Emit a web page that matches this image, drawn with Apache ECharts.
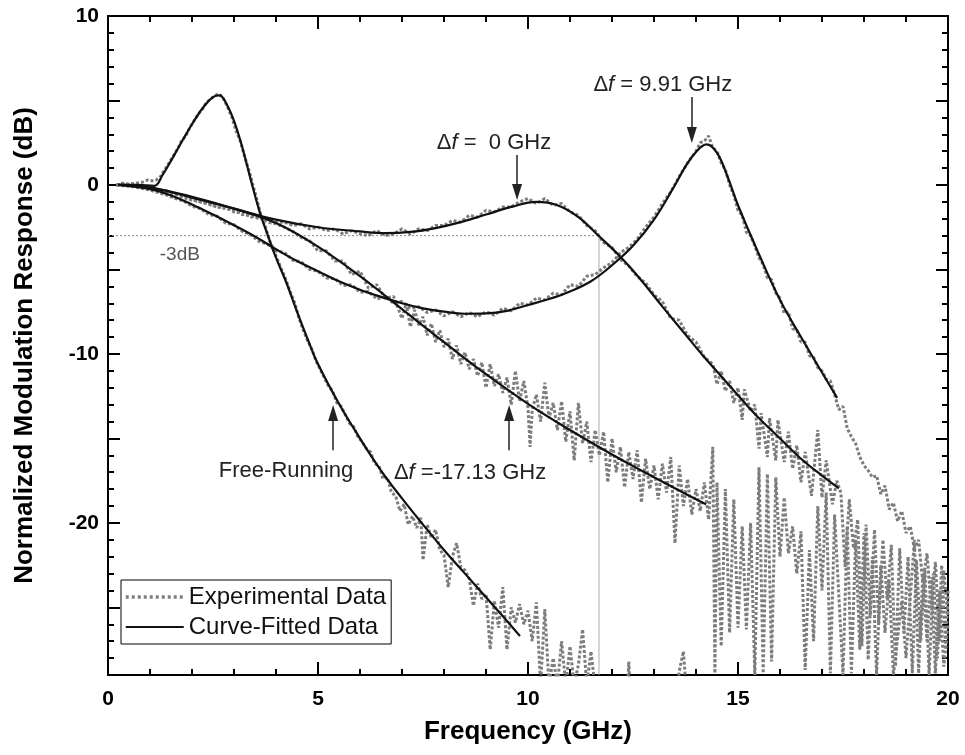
<!DOCTYPE html>
<html>
<head>
<meta charset="utf-8">
<script src="https://cdn.jsdelivr.net/npm/echarts@6/dist/echarts.min.js"></script>
<style>
html,body{margin:0;padding:0;background:#fff;}
#chart{width:965px;height:755px;}
</style>
</head>
<body>
<div id="chart"></div>
<script>
// ---- Curve-fitted data [GHz, dB] ----
const fitFree = [[0.25,0],[0.7,0.0],[1.1,-0.05],[1.3,0.6],[1.55,1.65],[1.8,2.75],[2.05,3.8],[2.3,4.7],[2.5,5.2],[2.65,5.3],[2.8,4.9],[3.0,3.8],[3.2,2.2],[3.4,0.3],[3.6,-1.5],[3.8,-2.95],[4.0,-4.3],[4.25,-5.8],[4.5,-7.5],[4.75,-9.1],[5.0,-10.6],[5.5,-12.95],[6.0,-15.0],[6.5,-16.9],[7.0,-18.55],[7.5,-20.1],[8.0,-21.6],[8.5,-23.0],[9.0,-24.4],[9.5,-25.8],[9.81,-26.7]];
const fitZero = [[0.25,0],[1,-0.15],[2,-0.75],[3,-1.4],[4,-2.05],[5,-2.5],[6,-2.75],[6.6,-2.85],[7.2,-2.78],[7.8,-2.55],[8.4,-2.2],[9.0,-1.75],[9.6,-1.3],[10.2,-1.0],[10.7,-1.2],[11.2,-1.9],[11.7,-3.05],[12.2,-4.25],[12.7,-5.65],[13.2,-7.2],[13.7,-8.7],[14.2,-10.2],[14.7,-11.6],[15.2,-13.0],[15.5,-13.8],[16.0,-15.0],[16.5,-16.2],[17.0,-17.2],[17.4,-17.95]];
const fitPos = [[0.25,0],[1,-0.25],[1.5,-0.62],[2,-1.15],[2.5,-1.75],[3,-2.38],[3.5,-3.05],[4,-3.8],[4.5,-4.5],[5,-5.1],[5.5,-5.7],[6,-6.2],[6.5,-6.62],[7,-7.0],[7.5,-7.3],[8,-7.5],[8.5,-7.62],[9,-7.6],[9.5,-7.45],[10,-7.1],[10.5,-6.75],[11,-6.3],[11.5,-5.7],[12,-4.75],[12.5,-3.6],[13,-2.05],[13.5,0.0],[13.75,1.1],[14,1.95],[14.25,2.4],[14.5,1.9],[14.75,0.5],[15,-1.2],[15.5,-4.1],[16,-6.8],[16.5,-9.0],[17,-11.1],[17.36,-12.6]];
const fitNeg = [[0.25,0],[1,-0.15],[2,-0.7],[3,-1.4],[4,-2.25],[5,-3.65],[6,-5.4],[7,-7.35],[8,-9.3],[9,-11.2],[10,-12.95],[11,-14.5],[12,-15.95],[13,-17.3],[14,-18.6],[14.24,-18.9]];

// ---- Experimental data [GHz, dB] ----
const expFree = [[0.2,0.0],[0.35,0.1],[0.5,0.05],[0.65,0.1],[0.8,0.15],[0.95,0.3],[1.05,0.25],[1.15,0.3],[1.25,0.5],[1.35,0.9],[1.45,1.3],[1.55,1.7],[1.65,2.1],[1.75,2.6],[1.85,2.9],[1.95,3.4],[2.05,3.8],[2.15,4.2],[2.25,4.5],[2.35,4.9],[2.45,5.1],[2.55,5.3],[2.65,5.4],[2.75,5.1],[2.85,4.6],[2.95,4.0],[3.05,3.2],[3.15,2.6],[3.25,1.7],[3.35,0.9],[3.45,0.0],[3.55,-0.9],[3.65,-1.9],[3.75,-2.5],[3.85,-3.3],[3.95,-3.9],[4.05,-4.5],[4.15,-5.1],[4.25,-5.7],[4.35,-6.4],[4.45,-7.0],[4.55,-7.9],[4.65,-8.6],[4.75,-9.2],[4.85,-9.7],[4.95,-10.4],[5.05,-10.9],[5.15,-11.4],[5.25,-11.9],[5.35,-12.2],[5.45,-12.9],[5.55,-13.1],[5.65,-13.6],[5.75,-14.1],[5.85,-14.3],[5.95,-14.9],[6.05,-15.2],[6.15,-15.6],[6.25,-15.8],[6.35,-16.5],[6.45,-16.6],[6.55,-17.4],[6.65,-17.3],[6.75,-18.2],[6.85,-18.4],[6.95,-19.3],[7.05,-18.9],[7.15,-20.1],[7.25,-19.6],[7.35,-20.3],[7.45,-19.7],[7.5,-22.2],[7.6,-20.1],[7.7,-20.9],[7.8,-20.4],[7.9,-21.6],[8.0,-21.9],[8.1,-23.8],[8.2,-22.0],[8.3,-21.2],[8.4,-22.6],[8.5,-22.8],[8.6,-23.3],[8.7,-24.9],[8.8,-23.6],[8.9,-24.5],[9.0,-24.2],[9.1,-27.5],[9.2,-24.6],[9.3,-26.2],[9.4,-23.8],[9.5,-27.5],[9.6,-25.0],[9.7,-25.9],[9.8,-24.8],[9.9,-26.0],[10.0,-25.2],[10.1,-27.0],[10.2,-24.7],[10.3,-29.6],[10.4,-25.1],[10.5,-29.6],[10.6,-28.0],[10.7,-29.6],[10.8,-27.0],[10.9,-29.6],[11.0,-27.3],[11.1,-29.6],[11.2,-28.4],[11.3,-26.3],[11.4,-29.6],[11.5,-27.6],[11.6,-29.8],[12.0,-31],[12.35,-31],[12.4,-28.2],[12.45,-31],[13.5,-31],[13.6,-28.8],[13.7,-27.6],[13.8,-31],[14.0,-31]];
const expZero = [[0.2,0.0],[0.4,0.05],[0.6,0.0],[0.8,-0.1],[1.0,-0.1],[1.2,-0.3],[1.4,-0.35],[1.6,-0.55],[1.8,-0.6],[2.0,-0.85],[2.2,-1.0],[2.4,-1.1],[2.6,-1.3],[2.8,-1.4],[3.0,-1.5],[3.2,-1.75],[3.4,-1.8],[3.6,-2.0],[3.8,-2.0],[4.0,-2.2],[4.2,-2.2],[4.4,-2.4],[4.6,-2.3],[4.8,-2.6],[5.0,-2.5],[5.2,-2.7],[5.4,-2.6],[5.6,-2.9],[5.8,-2.7],[6.0,-2.9],[6.2,-3.0],[6.4,-2.7],[6.6,-3.0],[6.8,-2.9],[7.0,-2.6],[7.2,-2.9],[7.4,-2.6],[7.6,-2.7],[7.8,-2.4],[8.0,-2.4],[8.2,-2.1],[8.4,-2.2],[8.6,-1.8],[8.8,-1.9],[9.0,-1.5],[9.2,-1.6],[9.4,-1.3],[9.6,-1.3],[9.8,-1.0],[10.0,-0.8],[10.2,-1.1],[10.4,-0.8],[10.6,-1.2],[10.8,-1.1],[11.0,-1.6],[11.2,-1.8],[11.4,-2.4],[11.6,-2.7],[11.8,-3.4],[12.0,-3.7],[12.2,-4.4],[12.4,-4.8],[12.6,-5.4],[12.8,-5.8],[13.0,-6.5],[13.2,-6.9],[13.4,-7.9],[13.6,-8.0],[13.8,-8.9],[14.0,-9.3],[14.2,-10.2],[14.4,-10.6],[14.5,-11.8],[14.6,-11.0],[14.7,-12.2],[14.8,-11.6],[14.9,-12.9],[15.0,-12.0],[15.1,-13.9],[15.15,-12.1],[15.3,-13.4],[15.4,-13.0],[15.5,-15.6],[15.55,-13.5],[15.7,-16.1],[15.75,-13.8],[15.9,-16.3],[15.95,-13.9],[16.1,-16.4],[16.2,-14.6],[16.3,-16.8],[16.4,-15.4],[16.5,-17.6],[16.6,-15.8],[16.75,-18.4],[16.9,-14.5],[17.0,-18.5],[17.1,-16.3],[17.25,-18.9],[17.35,-17.5],[17.45,-18.2],[17.55,-22.6],[17.65,-18.6],[17.75,-21.5],[17.85,-19.8],[17.95,-27.3],[18.05,-20.1],[18.15,-25.5],[18.25,-20.4],[18.35,-26.0],[18.45,-21.0],[18.55,-24.5],[18.65,-21.3],[18.75,-28.5],[18.85,-21.5],[18.95,-26.5],[19.05,-22.0],[19.15,-28.9],[19.25,-22.2],[19.35,-27.0],[19.45,-22.8],[19.55,-29.0],[19.65,-23.0],[19.75,-28.0],[19.85,-22.5],[19.95,-27.5],[20.0,-24.0]];
const expPos = [[0.2,0.0],[0.4,-0.05],[0.6,-0.1],[0.8,-0.2],[1.0,-0.3],[1.2,-0.45],[1.4,-0.6],[1.6,-0.8],[1.8,-0.95],[2.0,-1.25],[2.2,-1.4],[2.4,-1.75],[2.6,-1.85],[2.8,-2.25],[3.0,-2.35],[3.2,-2.75],[3.4,-2.95],[3.6,-3.35],[3.8,-3.5],[4.0,-3.9],[4.2,-4.0],[4.4,-4.45],[4.6,-4.55],[4.8,-5.0],[5.0,-5.1],[5.2,-5.5],[5.4,-5.55],[5.6,-5.95],[5.8,-5.9],[6.0,-6.35],[6.2,-6.3],[6.4,-6.75],[6.6,-6.6],[6.8,-7.0],[7.0,-6.9],[7.2,-7.3],[7.4,-7.2],[7.6,-7.55],[7.8,-7.4],[8.0,-7.75],[8.2,-7.5],[8.4,-7.8],[8.6,-7.55],[8.8,-7.8],[9.0,-7.5],[9.2,-7.7],[9.4,-7.3],[9.6,-7.45],[9.8,-7.0],[10.0,-7.1],[10.2,-6.7],[10.4,-6.8],[10.6,-6.4],[10.8,-6.5],[11.0,-5.9],[11.2,-6.0],[11.4,-5.4],[11.6,-5.3],[11.8,-4.9],[12.0,-4.6],[12.2,-4.0],[12.4,-3.7],[12.6,-3.2],[12.8,-2.5],[13.0,-1.9],[13.2,-1.1],[13.4,-0.4],[13.6,0.5],[13.8,1.3],[14.0,2.0],[14.1,2.5],[14.2,2.6],[14.3,2.9],[14.4,2.2],[14.5,2.0],[14.6,1.3],[14.7,0.9],[14.8,0.0],[14.9,-0.6],[15.0,-1.5],[15.1,-1.8],[15.2,-2.8],[15.3,-3.0],[15.4,-3.6],[15.5,-4.3],[15.6,-4.7],[15.7,-5.5],[15.8,-5.6],[15.9,-6.4],[16.0,-6.7],[16.1,-7.6],[16.2,-7.5],[16.3,-8.5],[16.4,-8.6],[16.5,-9.3],[16.6,-9.3],[16.7,-10.1],[16.8,-10.2],[16.9,-10.8],[17.0,-11.0],[17.1,-11.5],[17.2,-11.6],[17.3,-12.4],[17.4,-13.3],[17.5,-13.1],[17.6,-14.4],[17.7,-14.9],[17.8,-15.3],[17.9,-16.1],[18.0,-16.6],[18.1,-16.9],[18.2,-17.3],[18.3,-17.2],[18.4,-18.3],[18.5,-17.8],[18.6,-19.2],[18.7,-18.8],[18.8,-19.9],[18.9,-19.3],[19.0,-20.6],[19.1,-20.2],[19.2,-21.5],[19.3,-21.0],[19.4,-23.5],[19.5,-21.8],[19.6,-25.0],[19.7,-22.3],[19.8,-27.0],[19.9,-22.8],[20.0,-25.5]];
const expNeg = [[0.2,0.0],[0.4,0.0],[0.6,-0.05],[0.8,-0.1],[1.0,-0.2],[1.2,-0.3],[1.4,-0.5],[1.6,-0.55],[1.8,-0.75],[2.0,-0.9],[2.2,-1.0],[2.4,-1.15],[2.6,-1.3],[2.8,-1.3],[3.0,-1.6],[3.2,-1.6],[3.4,-1.9],[3.6,-1.85],[3.8,-2.2],[4.0,-2.3],[4.2,-2.5],[4.4,-2.75],[4.6,-3.1],[4.8,-3.3],[5.0,-3.9],[5.2,-3.9],[5.4,-4.5],[5.6,-4.5],[5.8,-5.3],[6.0,-5.1],[6.2,-6.1],[6.4,-5.9],[6.6,-6.7],[6.8,-6.6],[7.0,-7.9],[7.1,-7.0],[7.2,-8.4],[7.3,-7.4],[7.4,-8.3],[7.5,-7.8],[7.6,-8.9],[7.7,-8.2],[7.8,-9.3],[7.9,-8.6],[8.0,-9.6],[8.1,-9.1],[8.2,-10.3],[8.3,-9.5],[8.4,-10.6],[8.5,-9.9],[8.6,-10.9],[8.7,-10.3],[8.8,-11.3],[8.9,-10.5],[9.0,-12.0],[9.1,-10.6],[9.2,-11.9],[9.3,-11.2],[9.4,-12.3],[9.5,-11.4],[9.6,-13.0],[9.7,-11.0],[9.8,-12.8],[9.9,-11.6],[10.0,-13.2],[10.05,-15.5],[10.1,-13.3],[10.2,-12.4],[10.3,-14.0],[10.4,-11.7],[10.5,-13.8],[10.6,-12.9],[10.7,-14.5],[10.8,-12.8],[10.9,-15.2],[11.0,-13.4],[11.1,-16.3],[11.2,-12.9],[11.3,-15.3],[11.4,-14.0],[11.5,-16.4],[11.6,-14.5],[11.7,-16.0],[11.8,-14.6],[11.9,-17.6],[12.0,-15.0],[12.1,-17.0],[12.2,-15.5],[12.3,-17.9],[12.4,-15.8],[12.5,-17.4],[12.6,-15.7],[12.7,-18.8],[12.8,-16.2],[12.9,-18.0],[13.0,-16.6],[13.1,-18.6],[13.2,-16.5],[13.3,-18.2],[13.4,-16.1],[13.5,-21.2],[13.6,-16.6],[13.7,-19.0],[13.8,-17.4],[13.9,-19.5],[14.0,-18.0],[14.1,-19.3],[14.2,-17.6],[14.3,-19.8],[14.4,-15.5],[14.45,-28.9],[14.5,-17.6],[14.6,-27.3],[14.7,-18.0],[14.8,-26.5],[14.9,-18.6],[15.0,-26.2],[15.1,-20.2],[15.2,-26.3],[15.3,-20.0],[15.4,-29.0],[15.5,-16.7],[15.6,-28.9],[15.7,-17.1],[15.8,-28.2],[15.9,-17.3],[16.0,-22.0],[16.1,-18.5],[16.2,-21.8],[16.3,-20.2],[16.4,-23.0],[16.5,-20.5],[16.6,-28.7],[16.7,-21.6],[16.8,-27.0],[16.9,-19.0],[17.0,-24.0],[17.1,-18.2],[17.2,-28.9],[17.3,-19.5],[17.5,-29.0],[17.6,-20.2],[17.7,-28.9],[17.8,-21.0],[17.9,-27.5],[18.0,-20.6],[18.1,-28.1],[18.2,-22.0],[18.3,-29.0],[18.4,-22.5],[18.5,-26.5],[18.6,-23.4],[18.7,-29.0],[18.9,-24.6],[19.0,-28.0],[19.2,-21.0],[19.3,-28.9],[19.4,-23.0],[19.5,-27.0],[19.6,-23.2],[19.7,-28.9],[19.8,-24.0],[19.9,-28.5],[20.0,-26.0]];

// ---- reference lines / ticks ----
const minus3dBLine = [[0,-3],[11.69,-3]];
const cutoffLine = [[11.69,-3],[11.69,-29]];
const yLabelValues = [-20,-10,0,10];
const yMajorTicks = [-25,-20,-15,-10,-5,0,5,10];

const FONT = '"Liberation Sans", Arial, Helvetica, sans-serif';
const chart = echarts.init(document.getElementById('chart'), null, {renderer:'canvas'});

const expStyle = {color:'#7d7d7d', width:3, type:[3,2], cap:'butt'};
const fitStyle = {color:'#111', width:2.2};

function expSeries(data){
  return {name:'Experimental Data', type:'line', data:data, symbol:'none', lineStyle:expStyle, itemStyle:{color:'#7d7d7d'}, z:2, silent:true};
}
function fitSeries(data){
  return {name:'Curve-Fitted Data', type:'line', data:data, symbol:'none', smooth:0.4, lineStyle:fitStyle, itemStyle:{color:'#111'}, z:3, silent:true};
}

const richStyles = {
  a:{fontFamily:FONT, fontSize:22, color:'#222'},
  b:{fontFamily:FONT, fontSize:22, color:'#222', fontStyle:'italic'},
  c:{fontFamily:FONT, fontSize:19, color:'#555'}
};

const axisLineStyle = {show:true, onZero:false, lineStyle:{color:'#000', width:2}};

const option = {
  animation:false,
  backgroundColor:'#fff',
  grid:{left:108, right:17, top:16, bottom:80, containLabel:false},
  legend:{
    data:[
      {name:'Experimental Data', lineStyle:{color:'#7d7d7d', width:3.5, type:[3,3], cap:'butt'}},
      {name:'Curve-Fitted Data', lineStyle:{color:'#111', width:2.2, type:'solid'}}
    ],
    orient:'vertical', left:121, top:580,
    borderColor:'#000', borderWidth:1, backgroundColor:'#fff',
    padding:[5,5,5,3], itemGap:6, itemWidth:58, itemHeight:18,
    itemStyle:{opacity:0},
    textStyle:{fontFamily:FONT, fontSize:24, color:'#111'},
    selectedMode:false
  },
  xAxis:[
    {type:'value', position:'bottom', min:0, max:20, interval:5,
     axisLine:axisLineStyle,
     axisTick:{show:true, inside:true, length:13, lineStyle:{color:'#000', width:2}},
     minorTick:{show:true, splitNumber:5, length:6, lineStyle:{color:'#000', width:2}},
     splitLine:{show:false}, minorSplitLine:{show:false},
     axisLabel:{fontFamily:FONT, fontSize:21, fontWeight:'bold', color:'#000', margin:14},
     name:'Frequency (GHz)', nameLocation:'middle', nameGap:44,
     nameTextStyle:{fontFamily:FONT, fontSize:26, fontWeight:'bold', color:'#000'}
    },
    {type:'value', position:'top', min:0, max:20, interval:5,
     axisLine:axisLineStyle,
     axisTick:{show:true, inside:true, length:13, lineStyle:{color:'#000', width:2}},
     minorTick:{show:true, splitNumber:5, length:6, lineStyle:{color:'#000', width:2}},
     splitLine:{show:false}, axisLabel:{show:false}
    }
  ],
  yAxis:[
    {type:'value', position:'left', min:-29, max:10, interval:1,
     axisLine:axisLineStyle,
     axisTick:{show:true, inside:true, length:6, lineStyle:{color:'#000', width:2}},
     splitLine:{show:false},
     axisLabel:{fontFamily:FONT, fontSize:21, fontWeight:'bold', color:'#000', margin:9,
       formatter:function(v){ return yLabelValues.indexOf(v) >= 0 ? String(v) : ''; }},
     name:'Normalized Modulation Response (dB)', nameLocation:'middle', nameGap:70,
     nameTextStyle:{fontFamily:FONT, fontSize:26, fontWeight:'bold', color:'#000'}
    },
    {type:'value', position:'left', min:-29, max:10,
     axisLine:{show:false, onZero:false},
     axisTick:{show:true, inside:true, length:12, customValues:yMajorTicks, lineStyle:{color:'#000', width:2}},
     splitLine:{show:false}, axisLabel:{show:false, customValues:yMajorTicks}
    },
    {type:'value', position:'right', min:-29, max:10, interval:1,
     axisLine:axisLineStyle,
     axisTick:{show:true, inside:true, length:6, lineStyle:{color:'#000', width:2}},
     splitLine:{show:false}, axisLabel:{show:false}
    },
    {type:'value', position:'right', min:-29, max:10,
     axisLine:{show:false, onZero:false},
     axisTick:{show:true, inside:true, length:12, customValues:yMajorTicks, lineStyle:{color:'#000', width:2}},
     splitLine:{show:false}, axisLabel:{show:false, customValues:yMajorTicks}
    }
  ],
  series:[
    expSeries(expFree), expSeries(expZero), expSeries(expPos), expSeries(expNeg),
    fitSeries(fitFree), fitSeries(fitZero), fitSeries(fitPos), fitSeries(fitNeg),
    {name:'ref3dB', type:'line', data:minus3dBLine, symbol:'none', silent:true, z:1,
     lineStyle:{color:'#888', width:1, type:[2,2]},
     markPoint:{
       silent:true, symbol:'rect', symbolSize:1, itemStyle:{color:'rgba(0,0,0,0)'},
       label:{show:true, position:'inside', rich:richStyles},
       data:[
         {coord:[13.21,5.92], label:{formatter:'{a|Δ}{b|f}{a| = 9.91 GHz}'}},
         {coord:[9.19,2.49], label:{formatter:'{a|Δ}{b|f}{a| =  0 GHz}'}},
         {coord:[4.24,-16.95], label:{formatter:'{a|Free-Running}'}},
         {coord:[8.62,-17.05], label:{formatter:'{a|Δ}{b|f}{a| =-17.13 GHz}'}},
         {coord:[1.71,-4.14], label:{formatter:'{c|-3dB}'}}
       ]
     },
     markLine:{
       silent:true, symbol:['none','triangle'], symbolSize:[10,16],
       lineStyle:{color:'#222', width:1.5, type:'solid'}, label:{show:false},
       data:[
         [{coord:[13.9,5.2]},{coord:[13.9,2.96]}],
         [{coord:[9.74,1.78]},{coord:[9.74,-0.41]}],
         [{coord:[5.36,-15.7]},{coord:[5.36,-13.5]}],
         [{coord:[9.55,-15.7]},{coord:[9.55,-13.5]}]
       ]
     }
    },
    {name:'refCut', type:'line', data:cutoffLine, symbol:'none', silent:true, z:1,
     lineStyle:{color:'#aaa', width:1, type:'solid'}}
  ]
};
chart.setOption(option);
</script>
</body>
</html>
